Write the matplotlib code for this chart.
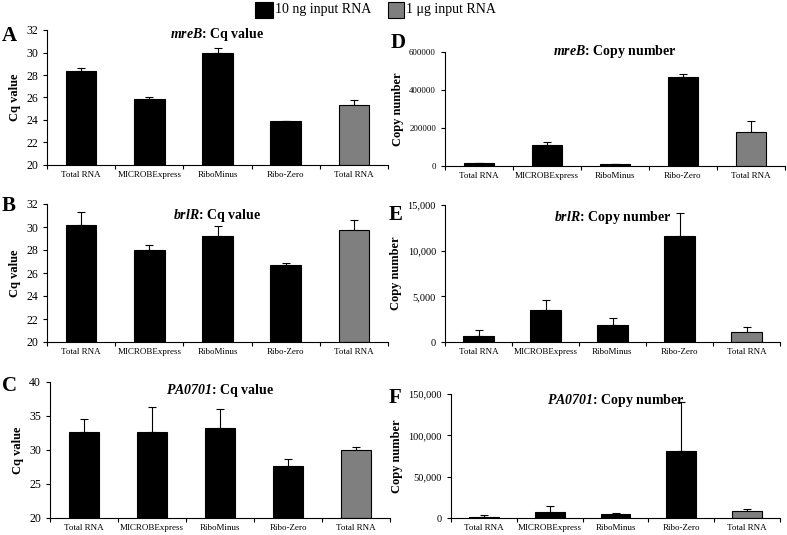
import matplotlib
matplotlib.use("Agg")
import matplotlib.pyplot as plt
from matplotlib.patches import Rectangle
from matplotlib.ticker import FuncFormatter

plt.rcParams['font.family'] = ['Liberation Serif', 'DejaVu Serif']
plt.rcParams['mathtext.fontset'] = 'custom'
plt.rcParams['mathtext.it'] = 'Liberation Serif:italic:bold'
plt.rcParams['mathtext.rm'] = 'Liberation Serif:italic:bold'

categories = ["Total RNA", "MICROBExpress", "RiboMinus", "Ribo-Zero", "Total RNA"]
bar_colors = ["black", "black", "black", "black", "#7f7f7f"]

# mreB
mreb_cq = [28.4, 25.9, 30.0, 23.9, 25.3]
mreb_cq_err = [0.2, 0.1, 0.4, 0.0, 0.5]
mreb_copy = [17500, 112000, 12000, 466000, 178000]
mreb_copy_err = [0, 12000, 0, 18000, 58000]
# brlR
brlr_cq = [30.2, 28.0, 29.2, 26.7, 29.7]
brlr_cq_err = [1.1, 0.4, 0.9, 0.2, 0.95]
brlr_copy = [700, 3500, 1900, 11650, 1050]
brlr_copy_err = [600, 1100, 700, 2450, 550]
# PA0701
pa_cq = [32.7, 32.7, 33.3, 27.7, 30.0]
pa_cq_err = [1.8, 3.6, 2.7, 1.0, 0.5]
pa_copy = [1500, 7000, 4500, 81000, 8000]
pa_copy_err = [2500, 8000, 1000, 59000, 3000]

W, H = 787, 535
fig = plt.figure(figsize=(W / 100, H / 100), dpi=100)


def px_rect(left, top, right, bottom):
    return [left / W, 1 - bottom / H, (right - left) / W, (bottom - top) / H]


panels = [
    # letter, axes box (px), values, errors, ylim, yticks, gene, kind, comma, ytick size, title y, letter pos (px)
    ("A", px_rect(47, 30, 388, 165), mreb_cq, mreb_cq_err, (20, 32), range(20, 33, 2), "mreB", "Cq value", False, 8.5, 0.963, (2, 36)),
    ("D", px_rect(445, 52, 785, 166), mreb_copy, mreb_copy_err, (0, 600000), range(0, 600001, 200000), "mreB", "Copy number", False, 6.3, 1.0, (391, 43)),
    ("B", px_rect(47, 204, 388, 342), brlr_cq, brlr_cq_err, (20, 32), range(20, 33, 2), "brlR", "Cq value", False, 8.5, 0.92, (2, 206)),
    ("E", px_rect(445, 205, 780, 342), brlr_copy, brlr_copy_err, (0, 15000), range(0, 15001, 5000), "brlR", "Copy number", True, 7.5, 0.91, (389, 215)),
    ("C", px_rect(50, 382, 390, 518), pa_cq, pa_cq_err, (20, 40), range(20, 41, 5), "PA0701", "Cq value", False, 8.5, 0.94, (2, 386)),
    ("F", px_rect(451, 394, 780, 518), pa_copy, pa_copy_err, (0, 150000), range(0, 150001, 50000), "PA0701", "Copy number", True, 7.5, 0.944, (389, 398)),
]

x = range(len(categories))
for letter, rect, vals, errs, ylim, yticks, gene, kind, comma, ysize, ty, lpos in panels:
    ax = fig.add_axes(rect)
    ax.bar(x, [v - ylim[0] for v in vals], bottom=ylim[0], width=0.45, color=bar_colors,
           edgecolor="black", linewidth=0.8, zorder=2)
    ax.errorbar(x, vals, yerr=[[0] * len(errs), errs], fmt="none", ecolor="black",
                elinewidth=0.8, capsize=3, capthick=0.8, zorder=1)
    ax.set_xlim(-0.5, len(categories) - 0.5)
    ax.set_ylim(*ylim)
    ax.set_yticks(list(yticks))
    if comma:
        ax.yaxis.set_major_formatter(FuncFormatter(lambda v, p: f"{int(v):,}"))
    ax.set_xticks([i - 0.5 for i in range(len(categories) + 1)])
    ax.set_xticklabels([])
    ax.set_xticks(list(x), minor=True)
    ax.set_xticklabels(categories, minor=True, fontsize=6.5)
    ax.tick_params(axis="x", which="minor", length=0, pad=4)
    ax.tick_params(axis="x", which="major", length=3, width=0.8)
    ax.tick_params(axis="y", length=3, width=0.8, labelsize=ysize)
    for s in ("top", "right"):
        ax.spines[s].set_visible(False)
    for s in ("left", "bottom"):
        ax.spines[s].set_linewidth(0.8)
    ax.set_ylabel(kind, fontsize=9, fontweight="bold")
    ax.text(0.5, ty, rf"$\mathit{{{gene}}}$: {kind}", transform=ax.transAxes,
            ha="center", va="center", fontsize=10, fontweight="bold")
    fig.text(lpos[0] / W, 1 - lpos[1] / H, letter, fontsize=15, fontweight="bold", ha="left", va="center")

# legend at top
fig.patches.append(Rectangle((255 / W, 1 - 18 / H), 18 / W, 16 / H, transform=fig.transFigure,
                             facecolor="black", edgecolor="black", lw=0.8))
fig.text(275 / W, 1 - 10 / H, "10 ng input RNA", fontsize=10, va="center")
fig.patches.append(Rectangle((388 / W, 1 - 18 / H), 16 / W, 16 / H, transform=fig.transFigure,
                             facecolor="#7f7f7f", edgecolor="black", lw=0.8))
fig.text(406 / W, 1 - 10 / H, "1 μg input RNA", fontsize=10, va="center")

fig.savefig("out.png", dpi=100)
